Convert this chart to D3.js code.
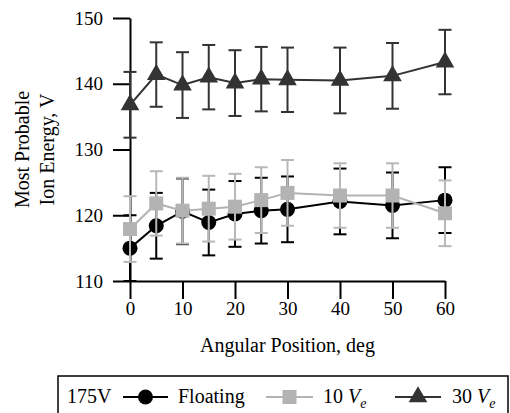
<!DOCTYPE html>
<html>
<head>
<meta charset="utf-8">
<script src="https://cdn.jsdelivr.net/npm/d3@7"></script>
<style>
  html, body { margin: 0; padding: 0; background: #fff; }
  svg { display: block; }
  svg text { font-family: "Liberation Serif", "Times New Roman", "DejaVu Serif", serif; fill: #000; }
</style>
</head>
<body>
<svg id="chart" width="510" height="413"></svg>
<script>
// Angular positions (deg)
const angles = [0, 5, 10, 15, 20, 25, 30, 40, 50, 60];

// Most probable ion energy (V) and error half-widths per series
const floating    = [115.0, 118.4, 120.6, 118.9, 120.2, 120.7, 120.9, 122.1, 121.5, 122.3];
const floatingErr = [5, 5, 5, 5, 5, 5, 5, 5, 5, 5];
const ten         = [117.9, 121.8, 120.7, 121.0, 121.3, 122.3, 123.4, 123.0, 123.0, 120.3];
const tenErr      = [5, 4.9, 5, 5, 5, 5, 5, 4.9, 4.9, 5];
const thirty      = [136.8, 141.4, 139.8, 141.0, 140.1, 140.7, 140.6, 140.5, 141.2, 143.3];
const thirtyErr   = [5, 4.9, 5, 4.9, 5, 4.9, 4.9, 5, 5, 4.9];

const xTicks = [0, 10, 20, 30, 40, 50, 60];
const yTicks = [110, 120, 130, 140, 150];

const series = [
  { name: "Floating", values: floating, err: floatingErr, color: "#000000", errColor: "#000000", shape: "circle" },
  { name: "10", values: ten, err: tenErr, color: "#b3b3b3", errColor: "#b8b8b8", shape: "square" },
  { name: "30", values: thirty, err: thirtyErr, color: "#333333", errColor: "#333333", shape: "triangle" }
];

const svg = d3.select("#chart");
const x = d3.scaleLinear().domain([0, 60]).range([130, 445]);
const y = d3.scaleLinear().domain([110, 150]).range([281, 18]);

// Axes
const xAxis = svg.append("g").attr("transform", `translate(0,${y(110)})`)
  .call(d3.axisBottom(x).tickValues(xTicks).tickSize(18).tickSizeOuter(0).tickPadding(3));
const yAxis = svg.append("g").attr("transform", `translate(${x(0)},0)`)
  .call(d3.axisLeft(y).tickValues(yTicks).tickSize(17).tickSizeOuter(0).tickPadding(10));

[xAxis, yAxis].forEach(g => {
  g.attr("font-family", null).attr("font-size", null);
  g.select(".domain").attr("stroke", "#000").attr("stroke-width", 2);
  g.selectAll(".tick line").attr("stroke", "#000").attr("stroke-width", 2);
  g.selectAll(".tick text").attr("fill", "#000").style("font-size", "19px");
});

// Axis titles
svg.append("text")
  .attr("x", (x(0) + x(60)) / 2).attr("y", 352)
  .attr("text-anchor", "middle").style("font-size", "20px")
  .text("Angular Position, deg");

const yTitle = svg.append("text")
  .attr("transform", `translate(29,${(y(110) + y(150)) / 2}) rotate(-90)`)
  .attr("text-anchor", "middle").style("font-size", "20px");
yTitle.append("tspan").attr("x", 0).attr("dy", 0).text("Most Probable");
yTitle.append("tspan").attr("x", 0).attr("dy", 25).text("Ion Energy, V");

// Marker drawing
function marker(g, shape, color, cx, cy) {
  if (shape === "circle") {
    g.append("circle").attr("cx", cx).attr("cy", cy).attr("r", 7.5).attr("fill", color);
  } else if (shape === "square") {
    g.append("rect").attr("x", cx - 7).attr("y", cy - 7)
      .attr("width", 14).attr("height", 14).attr("fill", color);
  } else {
    const sym = d3.symbol().type(d3.symbolTriangle).size(150);
    g.append("path").attr("d", sym()).attr("transform", `translate(${cx},${cy})`).attr("fill", color);
  }
}

const line = d3.line().x((d, i) => x(angles[i])).y(d => y(d));
const cap = 6.5;

series.forEach(s => {
  const g = svg.append("g");
  g.append("path").datum(s.values).attr("d", line)
    .attr("fill", "none").attr("stroke", s.color).attr("stroke-width", 2);
  s.values.forEach((v, i) => {
    const cx = x(angles[i]);
    const lo = y(v - s.err[i]), hi = y(v + s.err[i]);
    g.append("line").attr("x1", cx).attr("x2", cx).attr("y1", lo).attr("y2", hi)
      .attr("stroke", s.errColor).attr("stroke-width", 2);
    g.append("line").attr("x1", cx - cap).attr("x2", cx + cap).attr("y1", lo).attr("y2", lo)
      .attr("stroke", s.errColor).attr("stroke-width", 2);
    g.append("line").attr("x1", cx - cap).attr("x2", cx + cap).attr("y1", hi).attr("y2", hi)
      .attr("stroke", s.errColor).attr("stroke-width", 2);
  });
  s.values.forEach((v, i) => marker(g, s.shape, s.color, x(angles[i]), y(v)));
});

// Legend
const lg = svg.append("g");
lg.append("rect").attr("x", 58).attr("y", 376).attr("width", 450).attr("height", 60)
  .attr("fill", "#fff").attr("stroke", "#000").attr("stroke-width", 1.5);
const ly = 397, lb = 403;
lg.append("text").attr("x", 67).attr("y", lb).style("font-size", "20px").text("175V");

const legendItems = [
  { s: series[0], x1: 123, x2: 168, tx: 178 },
  { s: series[1], x1: 266, x2: 313, tx: 323 },
  { s: series[2], x1: 395, x2: 441, tx: 452 }
];
legendItems.forEach(it => {
  lg.append("line").attr("x1", it.x1).attr("x2", it.x2).attr("y1", ly).attr("y2", ly)
    .attr("stroke", it.s.color).attr("stroke-width", 2);
  marker(lg, it.s.shape, it.s.color, (it.x1 + it.x2) / 2, ly);
  const t = lg.append("text").attr("x", it.tx).attr("y", lb).style("font-size", "20px");
  if (it.s.name === "Floating") {
    t.text("Floating");
  } else {
    t.append("tspan").text(it.s.name + " ");
    t.append("tspan").style("font-style", "italic").text("V");
    t.append("tspan").style("font-style", "italic").style("font-size", "14px").attr("dy", 5).text("e");
  }
});
</script>
</body>
</html>
